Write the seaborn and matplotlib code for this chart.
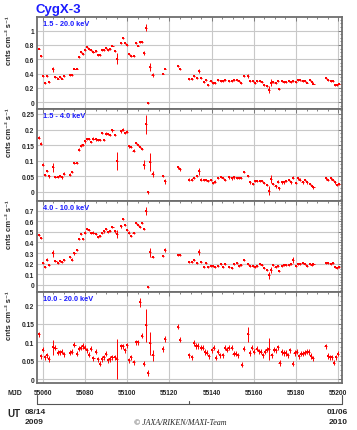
import numpy as np
import matplotlib
matplotlib.use("Agg")
import matplotlib.pyplot as plt
from matplotlib.lines import Line2D
from matplotlib.ticker import MultipleLocator, AutoMinorLocator, FuncFormatter
import seaborn as sns

# === MJD of the daily bins ===
mjd_lo = [55058, 55059, 55060, 55061, 55062, 55063, 55065, 55066, 55067, 55068,
          55069, 55070, 55073, 55074, 55075, 55076, 55077, 55078, 55079, 55080,
          55081, 55082, 55083, 55084, 55085, 55086, 55087, 55088, 55089, 55090,
          55091, 55092, 55093, 55094, 55095, 55097, 55098, 55099, 55100, 55101,
          55102, 55103, 55104, 55105, 55106, 55107, 55108, 55109, 55110, 55111,
          55112, 55117, 55118, 55124, 55125]
mjd_hi_soft = [55129.4, 55130.5, 55131.6, 55132.9, 55134.0, 55135.1, 55136.2, 55137.3, 55138.4, 55139.5,
               55140.6, 55141.7, 55143.2, 55144.3, 55145.2, 55146.3, 55148.4, 55149.5, 55150.6, 55151.9,
               55153.0, 55154.1, 55155.3, 55157.4, 55158.3, 55159.6, 55160.5, 55161.7, 55162.8, 55163.9,
               55165.0, 55166.2, 55167.3, 55168.1, 55169.2, 55170.3, 55171.4, 55172.1, 55173.2, 55174.3,
               55175.4, 55176.5, 55177.6, 55178.7, 55179.8, 55180.9, 55182.0, 55183.1, 55184.2, 55185.3,
               55186.5, 55187.6, 55188.3, 55194.2, 55195.3, 55196.4, 55197.5, 55198.5, 55199.4, 55200.4]
mjd_hi_hard = [55129.3, 55130.5, 55131.6, 55132.6, 55133.7, 55134.8, 55135.7, 55136.8, 55138.0, 55138.9,
               55140.0, 55141.1, 55142.1, 55143.2, 55144.1, 55145.2, 55146.3, 55147.4, 55148.4, 55149.5,
               55150.4, 55151.5, 55152.6, 55154.2, 55155.2, 55157.1, 55158.2, 55159.1, 55160.2, 55161.3,
               55162.3, 55163.2, 55164.5, 55165.4, 55166.4, 55167.3, 55168.4, 55169.4, 55170.5, 55171.3,
               55172.2, 55173.3, 55174.3, 55175.2, 55176.3, 55177.3, 55178.4, 55179.3, 55180.3, 55181.4,
               55182.3, 55183.3, 55184.2, 55185.2, 55186.1, 55187.1, 55188.2, 55194.0, 55195.0, 55196.1,
               55197.0, 55198.1, 55199.1, 55200.0]

# === 1.5 - 20.0 keV ===
f1_lo = [0.75, 0.65, 0.37, 0.27, 0.36, 0.28, 0.46, 0.35, 0.33, 0.35,
         0.33, 0.36, 0.38, 0.38, 0.47, 0.47, 0.63, 0.70, 0.67, 0.73,
         0.77, 0.74, 0.73, 0.70, 0.71, 0.66, 0.66, 0.73, 0.73, 0.76,
         0.73, 0.74, 0.79, 0.72, 0.61, 0.82, 0.89, 0.82, 0.80, 0.67,
         0.65, 0.65, 0.82, 0.79, 0.84, 0.84, 0.69, 1.04, -0.01, 0.49,
         0.38, 0.40, 0.47, 0.50, 0.46]
f1_hi = [0.325, 0.325, 0.36, 0.335, 0.44, 0.335, 0.28, 0.31, 0.245, 0.29,
         0.27, 0.265, 0.315, 0.29, 0.30, 0.31, 0.29, 0.30, 0.31, 0.31,
         0.29, 0.265, 0.36, 0.37, 0.29, 0.29, 0.27, 0.29, 0.30, 0.28,
         0.245, 0.23, 0.175, 0.27, 0.28, 0.27, 0.29, 0.185, 0.29, 0.28,
         0.28, 0.30, 0.285, 0.29, 0.285, 0.31, 0.31, 0.30, 0.29, 0.275,
         0.31, 0.28, 0.26, 0.335, 0.31, 0.30, 0.29, 0.24, 0.24, 0.26]

# === 1.5 - 4.0 keV ===
f2_lo = [0.174, 0.155, 0.087, 0.053, 0.067, 0.049, 0.078, 0.048, 0.047, 0.051,
         0.046, 0.058, 0.055, 0.063, 0.092, 0.093, 0.135, 0.148, 0.150, 0.162,
         0.170, 0.170, 0.160, 0.171, 0.168, 0.167, 0.167, 0.188, 0.167, 0.187,
         0.185, 0.183, 0.197, 0.182, 0.099, 0.194, 0.200, 0.189, 0.193, 0.146,
         0.143, 0.132, 0.156, 0.150, 0.143, 0.138, 0.087, 0.217, -0.002, 0.095,
         0.058, 0.050, 0.034, 0.078, 0.072]
f2_hi = [0.039, 0.039, 0.044, 0.050, 0.065, 0.039, 0.038, 0.038, 0.035, 0.038,
         0.028, 0.032, 0.044, 0.048, 0.044, 0.038, 0.046, 0.043, 0.046, 0.044,
         0.044, 0.044, 0.063, 0.050, 0.030, 0.025, 0.035, 0.035, 0.034, 0.034,
         0.028, 0.022, 0.003, 0.041, 0.025, 0.017, 0.032, 0.011, 0.030, 0.030,
         0.034, 0.038, 0.030, 0.045, 0.028, 0.043, 0.039, 0.030, 0.037, 0.030,
         0.025, 0.019, 0.014, 0.043, 0.038, 0.043, 0.038, 0.030, 0.022, 0.025]

# === 4.0 - 10.0 keV ===
f3_lo = [0.47, 0.445, 0.207, 0.169, 0.239, 0.188, 0.296, 0.226, 0.21, 0.229,
         0.213, 0.232, 0.261, 0.239, 0.296, 0.325, 0.433, 0.48, 0.433, 0.493,
         0.525, 0.515, 0.49, 0.493, 0.477, 0.455, 0.461, 0.49, 0.503, 0.525,
         0.496, 0.506, 0.544, 0.503, 0.477, 0.55, 0.62, 0.566, 0.519, 0.493,
         0.461, 0.487, 0.579, 0.56, 0.544, 0.585, 0.528, 0.694, -0.02, 0.305,
         0.264, 0.274, 0.328, 0.28, 0.28]
f3_hi = [0.216, 0.216, 0.232, 0.206, 0.311, 0.216, 0.168, 0.206, 0.168, 0.178,
         0.175, 0.168, 0.178, 0.194, 0.168, 0.20, 0.168, 0.162, 0.20, 0.203,
         0.175, 0.184, 0.232, 0.194, 0.178, 0.175, 0.168, 0.175, 0.20, 0.19,
         0.162, 0.137, 0.089, 0.143, 0.184, 0.168, 0.181, 0.127, 0.175, 0.187,
         0.187, 0.19, 0.194, 0.232, 0.175, 0.197, 0.194, 0.21, 0.194, 0.175,
         0.20, 0.19, 0.194, 0.21, 0.206, 0.197, 0.206, 0.168, 0.159, 0.168]

# === 10.0 - 20.0 keV ===
f4_lo = [0.122, 0.062, 0.08, 0.06, 0.065, 0.055, 0.087, 0.085, 0.072, 0.073,
         0.075, 0.068, 0.072, 0.075, 0.094, 0.069, 0.083, 0.085, 0.09, 0.085,
         0.078, 0.067, 0.083, 0.057, 0.075, 0.054, 0.042, 0.055, 0.06, 0.069,
         0.051, 0.055, 0.06, 0.06, 0.055, 0.089, 0.089, 0.078, 0.092, 0.051,
         0.06, 0.046, 0.10, 0.10, 0.208, 0.118, 0.042, 0.146, 0.017, 0.097,
         0.065, 0.082, 0.109, 0.142, 0.107]
f4_hi = [0.065, 0.06, 0.098, 0.09, 0.09, 0.085, 0.085, 0.074, 0.072, 0.062,
         0.078, 0.085, 0.058, 0.075, 0.065, 0.065, 0.085, 0.08, 0.085, 0.085,
         0.069, 0.069, 0.065, 0.04, 0.083, 0.122, 0.071, 0.085, 0.075, 0.083,
         0.076, 0.075, 0.065, 0.075, 0.08, 0.083, 0.065, 0.08, 0.078, 0.087,
         0.044, 0.074, 0.071, 0.071, 0.065, 0.078, 0.042, 0.071, 0.075, 0.062,
         0.069, 0.069, 0.072, 0.075, 0.074, 0.063, 0.057, 0.089, 0.063, 0.06,
         0.06, 0.045, 0.06, 0.069]

# === error bars: typical size and the larger ones ===
err_base = [0.012, 0.004, 0.010, 0.007]
big1_mjd = [55065, 55095, 55108, 55109, 55111, 55112, 55134.0, 55157.4, 55167.3]
big1_err = [0.035, 0.08, 0.03, 0.05, 0.06, 0.03, 0.03, 0.03, 0.05]
big2_mjd = [55065, 55095, 55108, 55109, 55111, 55112, 55118, 55134.0, 55167.3]
big2_err = [0.015, 0.03, 0.015, 0.03, 0.03, 0.01, 0.008, 0.01, 0.014]
big3_mjd = [55065, 55095, 55109, 55111, 55118, 55134.0, 55167.3, 55178.7]
big3_err = [0.03, 0.04, 0.04, 0.04, 0.02, 0.03, 0.03, 0.03]
big4_mjd = [55065, 55095, 55106, 55109, 55111, 55112, 55157.1, 55167.3]
big4_err = [0.02, 0.055, 0.012, 0.045, 0.03, 0.015, 0.02, 0.03]

band_labels = ["1.5 - 20.0 keV", "1.5 - 4.0 keV", "4.0 - 10.0 keV", "10.0 - 20.0 keV"]
ylims = [(-0.095, 1.19), (-0.03, 0.266), (-0.067, 0.79), (-0.01, 0.236)]
ysteps = [0.2, 0.05, 0.1, 0.05]

sns.set_style("white")
plt.rcParams['font.family'] = ['Liberation Sans', 'DejaVu Sans']
plt.rcParams['font.weight'] = 'bold'

W, H = 357, 431
fig = plt.figure(figsize=(W / 100, H / 100), dpi=100)


def fx(px):
    return px / W


def fy(py):
    return 1 - py / H


x0, x1 = 36.5, 342.4
edges = [18, 110, 202, 293, 384]
blue = '#1a1aff'
frame = '#6e6e6e'

panels = [
    (mjd_lo + mjd_hi_soft, f1_lo + f1_hi, big1_mjd, big1_err),
    (mjd_lo + mjd_hi_soft, f2_lo + f2_hi, big2_mjd, big2_err),
    (mjd_lo + mjd_hi_soft, f3_lo + f3_hi, big3_mjd, big3_err),
    (mjd_lo + mjd_hi_hard, f4_lo + f4_hi, big4_mjd, big4_err),
]

for i, (t, f, bm, be) in enumerate(panels):
    ax = fig.add_axes([fx(x0), fy(edges[i + 1]), fx(x1) - fx(x0), (edges[i + 1] - edges[i]) / H])
    t = np.array(t, dtype=float)
    f = np.array(f, dtype=float)
    err = np.full(len(t), err_base[i])
    for m, e in zip(bm, be):
        err[np.isclose(t, m, atol=0.3)] = e

    ax.errorbar(t, f, yerr=err, xerr=0.5, fmt='none', ecolor='red', elinewidth=0.7, capsize=0, zorder=3)
    sns.scatterplot(x=t, y=f, ax=ax, color='red', marker='s', s=3.5, linewidth=0, zorder=4)

    ax.set_xlim(55057, 55202)
    ax.set_ylim(*ylims[i])
    ax.xaxis.set_major_locator(MultipleLocator(20))
    ax.xaxis.set_minor_locator(MultipleLocator(5))
    ax.yaxis.set_major_locator(MultipleLocator(ysteps[i]))
    ax.yaxis.set_minor_locator(AutoMinorLocator(4))
    ax.yaxis.set_major_formatter(FuncFormatter(lambda v, p: f"{v:g}"))
    ax.grid(True, which='major', color='#c8c8c8', lw=0.8)
    ax.set_axisbelow(True)
    ax.tick_params(which='both', direction='in', top=True, right=True, color=frame, width=0.6,
                   labelsize=4.8, pad=1.5)
    ax.tick_params(which='major', length=3)
    ax.tick_params(which='minor', length=1.5)
    for s in ax.spines.values():
        s.set_color(frame)
        s.set_linewidth(1.3)
    if i < 3:
        ax.tick_params(axis='x', labelbottom=False)
    else:
        ax.tick_params(axis='x', pad=4)

    ax.text(0.02, 0.97, band_labels[i], transform=ax.transAxes, ha='left', va='top',
            color=blue, fontsize=5.3, fontweight='bold')
    ax.text(-0.087, 1.02, 'cnts cm⁻² s⁻¹', transform=ax.transAxes, rotation=90,
            ha='center', va='top', fontsize=5.5, fontweight='bold')

# title
fig.text(fx(36), fy(10), 'CygX-3', color=blue, fontsize=9.5, fontweight='bold', ha='left', va='center')

# MJD / UT axis annotations
fig.text(fx(8), fy(394), 'MJD', fontsize=5, fontweight='bold', ha='left', va='center')
ut_y = fy(405)
fig.add_artist(Line2D([fx(x0), fx(x1)], [ut_y, ut_y], color='#555555', lw=0.8))
for px, top in [(x0, 396), ((x0 + x1) / 2, 402), (x1, 396)]:
    fig.add_artist(Line2D([fx(px), fx(px)], [ut_y, fy(top)], color='#555555', lw=0.8))
fig.text(fx(7), fy(414), 'UT', fontsize=7, fontweight='bold', ha='left', va='center')
fig.text(fx(25), fy(413), '08/14', fontsize=6, fontweight='bold', ha='left', va='center')
fig.text(fx(25), fy(423), '2009', fontsize=6, fontweight='bold', ha='left', va='center')
fig.text(fx(327), fy(413), '01/06', fontsize=6, fontweight='bold', ha='left', va='center')
fig.text(fx(329), fy(423), '2010', fontsize=6, fontweight='bold', ha='left', va='center')
fig.text(fx(180), fy(423), '© JAXA/RIKEN/MAXI-Team', fontsize=5.8, family='Liberation Serif',
         style='italic', fontweight='normal', ha='center', va='center')

fig.savefig('out.png', dpi=100)
